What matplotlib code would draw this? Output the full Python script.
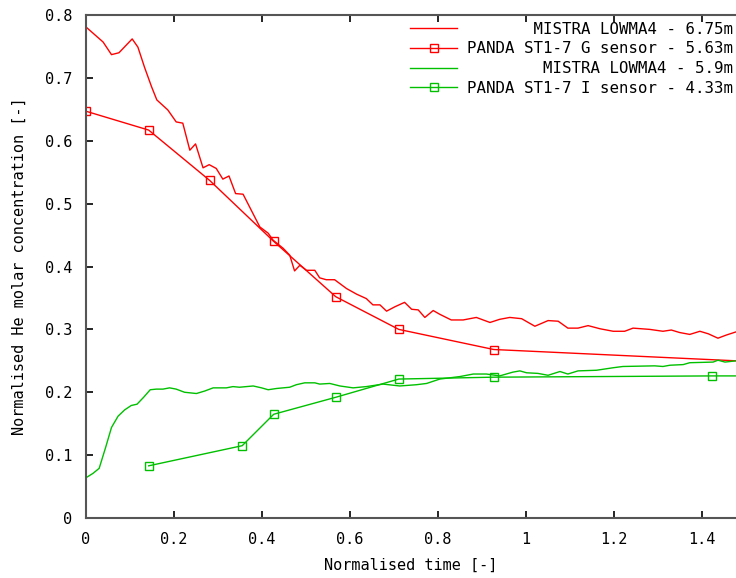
import numpy as np
import matplotlib
matplotlib.use("Agg")
import matplotlib.pyplot as plt

matplotlib.rcParams['font.family'] = 'DejaVu Sans Mono'
matplotlib.rcParams['font.size'] = 11

# MISTRA LOWMA4 - 6.75m (red line)
mistra_675_t = [0.000, 0.039, 0.058, 0.075, 0.105, 0.118, 0.133, 0.149, 0.161, 0.186,
                0.205, 0.220, 0.236, 0.249, 0.266, 0.280, 0.296, 0.311, 0.325, 0.340,
                0.357, 0.395, 0.414, 0.425, 0.448, 0.463, 0.474, 0.486, 0.501, 0.520,
                0.531, 0.546, 0.565, 0.592, 0.615, 0.637, 0.652, 0.668, 0.683, 0.702,
                0.724, 0.740, 0.755, 0.770, 0.789, 0.804, 0.830, 0.857, 0.887, 0.918,
                0.940, 0.963, 0.990, 1.020, 1.050, 1.073, 1.095, 1.118, 1.141, 1.168,
                1.198, 1.224, 1.243, 1.281, 1.311, 1.330, 1.349, 1.372, 1.395, 1.414,
                1.436, 1.455, 1.477]
mistra_675_c = [0.781, 0.757, 0.737, 0.740, 0.762, 0.749, 0.717, 0.686, 0.665, 0.649,
                0.630, 0.628, 0.585, 0.595, 0.557, 0.562, 0.556, 0.539, 0.544, 0.516,
                0.515, 0.463, 0.453, 0.442, 0.429, 0.418, 0.393, 0.402, 0.394, 0.394,
                0.382, 0.379, 0.379, 0.365, 0.356, 0.349, 0.339, 0.339, 0.329, 0.336,
                0.343, 0.332, 0.331, 0.319, 0.330, 0.324, 0.315, 0.315, 0.319, 0.311,
                0.316, 0.319, 0.317, 0.305, 0.314, 0.313, 0.302, 0.302, 0.306, 0.301,
                0.297, 0.297, 0.302, 0.300, 0.297, 0.299, 0.295, 0.292, 0.297, 0.293,
                0.286, 0.291, 0.296]

# PANDA ST1-7 G sensor - 5.63m (red squares)
panda_g_t = [0.000, 0.1425, 0.281, 0.4266, 0.5675, 0.7107, 0.9266, 1.600]
panda_g_c = [0.647, 0.617, 0.537, 0.440, 0.352, 0.300, 0.268, 0.246]

# MISTRA LOWMA4 - 5.9m (green line)
mistra_59_t = [0.000, 0.016, 0.030, 0.045, 0.058, 0.073, 0.088, 0.103, 0.116, 0.131,
               0.146, 0.160, 0.175, 0.190, 0.205, 0.224, 0.251, 0.270, 0.289, 0.319,
               0.334, 0.349, 0.380, 0.399, 0.414, 0.433, 0.463, 0.478, 0.497, 0.520,
               0.531, 0.554, 0.577, 0.607, 0.637, 0.675, 0.713, 0.751, 0.774, 0.804,
               0.850, 0.880, 0.910, 0.940, 0.970, 0.986, 1.001, 1.027, 1.050, 1.077,
               1.095, 1.118, 1.160, 1.198, 1.220, 1.292, 1.311, 1.327, 1.357, 1.372,
               1.425, 1.436, 1.452, 1.477]
mistra_59_c = [0.064, 0.071, 0.079, 0.113, 0.144, 0.162, 0.172, 0.179, 0.181, 0.192,
               0.204, 0.205, 0.205, 0.207, 0.205, 0.200, 0.198, 0.202, 0.207, 0.207,
               0.209, 0.208, 0.210, 0.207, 0.204, 0.206, 0.208, 0.212, 0.215, 0.215,
               0.213, 0.214, 0.210, 0.207, 0.209, 0.213, 0.210, 0.212, 0.214, 0.221,
               0.225, 0.229, 0.229, 0.226, 0.232, 0.234, 0.231, 0.230, 0.227, 0.233,
               0.229, 0.234, 0.235, 0.239, 0.241, 0.242, 0.241, 0.243, 0.244, 0.247,
               0.248, 0.251, 0.248, 0.250]

# PANDA ST1-7 I sensor - 4.33m (green squares)
panda_i_t = [0.1425, 0.355, 0.4266, 0.5675, 0.7107, 0.9266, 1.423, 1.600]
panda_i_c = [0.083, 0.115, 0.165, 0.192, 0.221, 0.224, 0.226, 0.226]

labels = ["MISTRA LOWMA4 - 6.75m", "PANDA ST1-7 G sensor - 5.63m",
          "MISTRA LOWMA4 - 5.9m", "PANDA ST1-7 I sensor - 4.33m"]
width = max(len(s) for s in labels)
labels = [s.rjust(width) for s in labels]

red = '#ff0000'
green = '#00c000'

fig = plt.figure(figsize=(7.36, 5.78), dpi=100)
ax = fig.add_axes([0.1168, 0.1038, 0.8832, 0.8702])

ax.plot(mistra_675_t, mistra_675_c, color=red, lw=1.0, label=labels[0])
ax.plot(panda_g_t, panda_g_c, color=red, lw=1.0, marker='s', ms=5.5,
        mfc='none', mec=red, mew=1.0, label=labels[1])
ax.plot(mistra_59_t, mistra_59_c, color=green, lw=1.0, label=labels[2])
ax.plot(panda_i_t, panda_i_c, color=green, lw=1.0, marker='s', ms=5.5,
        mfc='none', mec=green, mew=1.0, label=labels[3])

ax.set_xlim(0, 1.477)
ax.set_ylim(0, 0.8)
ax.set_xticks([0, 0.2, 0.4, 0.6, 0.8, 1.0, 1.2, 1.4])
ax.set_xticklabels(['0', '0.2', '0.4', '0.6', '0.8', '1', '1.2', '1.4'])
ax.set_yticks(np.arange(0, 0.81, 0.1))
ax.set_yticklabels(['0', '0.1', '0.2', '0.3', '0.4', '0.5', '0.6', '0.7', '0.8'])
ax.tick_params(direction='in', length=5, width=1.2, color='#000000',
               top=True, right=False, labelsize=11)
ax.tick_params(axis='x', pad=10)
ax.tick_params(axis='y', pad=10)

for side in ['left', 'top', 'bottom']:
    ax.spines[side].set_linewidth(1.5)
    ax.spines[side].set_color('#555555')
ax.spines['right'].set_visible(False)

ax.set_xlabel('Normalised time [-]', fontsize=11, labelpad=8)
ax.set_ylabel('Normalised He molar concentration [-]', fontsize=11, labelpad=13)

leg = ax.legend(loc='upper right', bbox_to_anchor=(1.0, 0.993), frameon=False,
                fontsize=11.3, handlelength=3.0, handletextpad=0.6,
                labelspacing=0.3, borderaxespad=0, borderpad=0.2)

plt.savefig('out.png', dpi=100)
